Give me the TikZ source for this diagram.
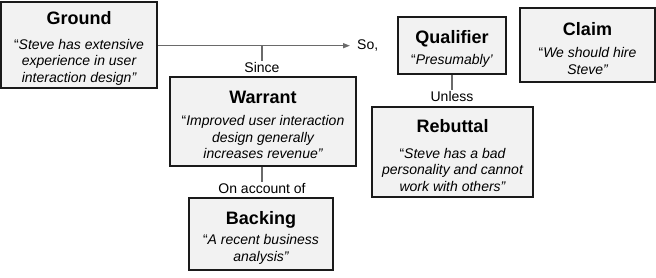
\documentclass[tikz,border=0pt]{standalone}
\usepackage{fontspec}
\setmainfont{Liberation Sans}
\usetikzlibrary{arrows.meta}
\definecolor{boxfill}{HTML}{F2F2F2}
\definecolor{boxline}{HTML}{1A1A1A}
\definecolor{conn}{HTML}{6A6A6A}
\newcommand{\ttl}[1]{{\upshape\bfseries\fontsize{18}{20}\selectfont #1}}
\newcommand{\oq}{{\upshape “}}
\begin{document}
\begin{tikzpicture}[x=1pt,y=-1pt,
  tbox/.style={draw=boxline, line width=1.8pt, fill=boxfill, inner sep=0pt},
  btxt/.style={align=center, inner sep=0pt, yshift=-3.5pt,
    font=\fontsize{14}{16.5}\selectfont\itshape},
  lbl/.style={font=\fontsize{14}{17}\selectfont, inner sep=1pt},
  conline/.style={draw=conn, line width=1.5pt},
  arr/.style={conline, -{Triangle[length=7pt,width=5pt]}}]
\useasboundingbox (0,0) rectangle (656,277);

\node[tbox, minimum width=156, minimum height=86] (ground) at (79,45) {};
\node[btxt] (groundt) at (ground.center)
  {\ttl{Ground}\\[8pt]\oq Steve has extensive\\experience in user\\interaction design”};
\node[tbox, minimum width=186, minimum height=89] (warrant) at (263,121.5) {};
\node[btxt] (warrantt) at (warrant.center)
  {\ttl{Warrant}\\[6pt]\oq Improved user interaction\\design generally\\increases revenue”};
\node[tbox, minimum width=144, minimum height=72] (backing) at (261,234) {};
\node[btxt] (backingt) at (backing.center)
  {\ttl{Backing}\\[4pt]\oq A recent business\\analysis”};
\node[tbox, minimum width=108, minimum height=57] (qualifier) at (452,45.5) {};
\node[btxt] (qualifiert) at (qualifier.center)
  {\ttl{Qualifier}\\[5pt]\oq Presumably’};
\node[tbox, minimum width=135, minimum height=74] (claim) at (587.5,45) {};
\node[btxt] (claimt) at (claim.center)
  {\ttl{Claim}\\[6pt]\oq We should hire\\Steve”};
\node[tbox, minimum width=161, minimum height=90] (rebuttal) at (452.5,152) {};
\node[btxt] (rebuttalt) at (rebuttal.center)
  {\ttl{Rebuttal}\\[9pt]\oq Steve has a bad\\personality and cannot\\work with others”};

\coordinate (sotip) at (350,45.7);
\coordinate (tick) at (262,45.7);
\node[lbl, anchor=west] (so) at (356,46) {So,};
\node[lbl] (since) at (262,67) {Since};
\node[lbl] (onacc) at (262,188) {On account of};
\node[lbl] (unless) at (452,96) {Unless};

\draw[arr] (ground.east |- sotip) -- (sotip);
\draw[conline] (tick) -- (since.north);
\draw[conline] (warrant.south -| onacc.north) -- (onacc.north);
\draw[conline] (qualifier.south) -- (unless.north);
\end{tikzpicture}
\end{document}
